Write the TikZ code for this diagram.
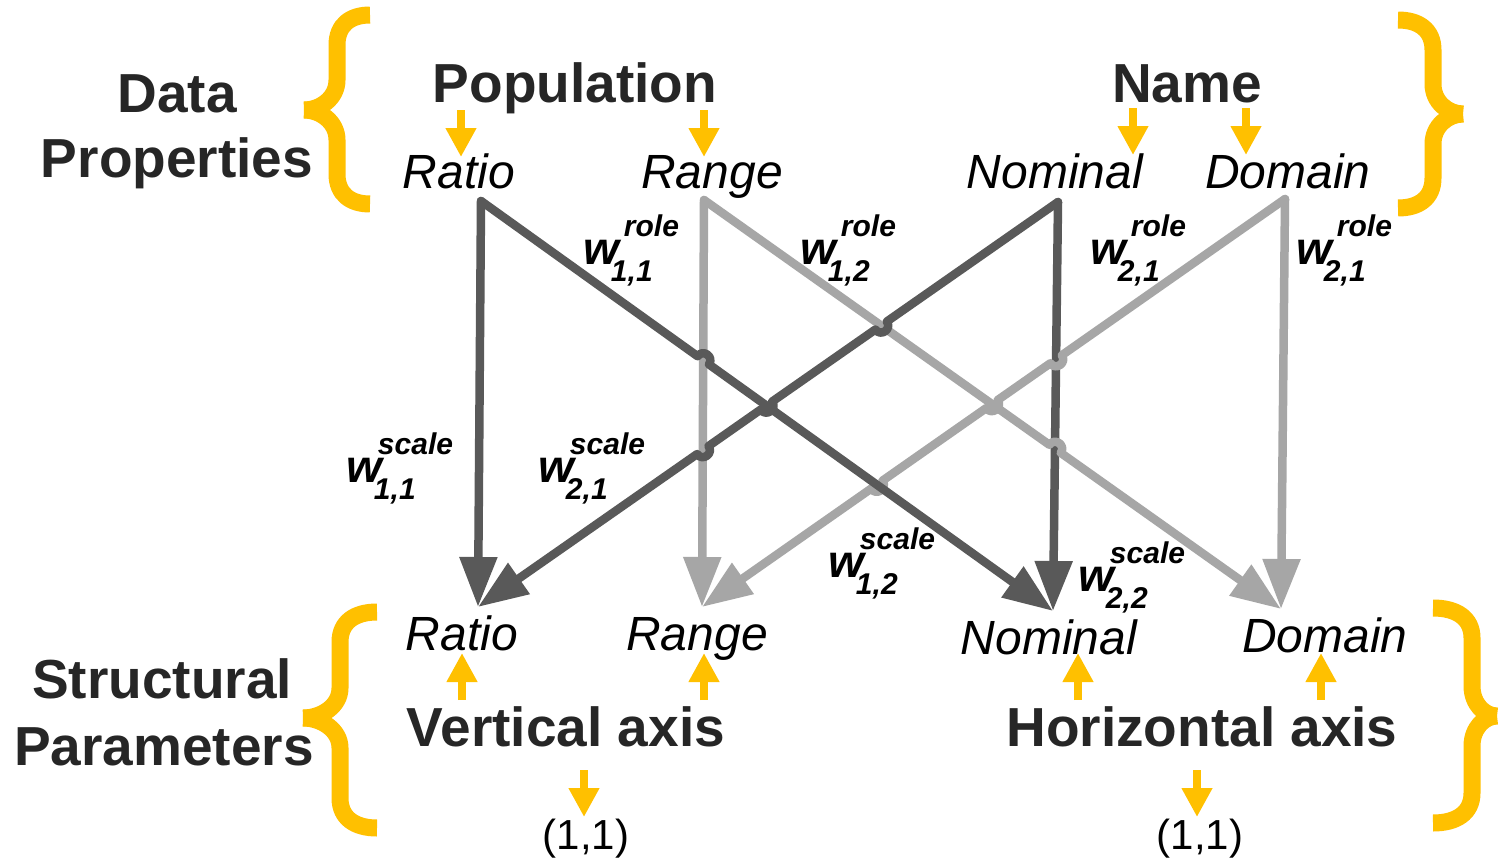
\documentclass[tikz,border=0pt]{standalone}
\usepackage{fontspec}
\setmainfont{Liberation Sans}
\usetikzlibrary{arrows.meta,calc}

\definecolor{dk}{HTML}{595959}
\definecolor{lt}{HTML}{A6A6A6}
\definecolor{gold}{HTML}{FFC000}
\definecolor{ink}{HTML}{262626}

% weight label: w with a superscript (#2) and a subscript (#3); #1 shifts the superscript
\newcommand{\wlab}[3][5pt]{{\fontsize{46}{46}\selectfont w}\rlap{\kern-8pt\raisebox{-17pt}{\fontsize{30}{30}\selectfont #3}}\kern#1\raisebox{28pt}{\fontsize{30}{30}\selectfont #2}}

% curly brace drawn as two thick strokes:
% #1 end x, #2 top y, #3 bottom y, #4 stem x, #5 tip x, #6 tip y
\newcommand{\goldbrace}[6]{%
  \draw[bracestroke] (#1,#2) .. controls ({#4+0.4*(#1-#4)},#2) and (#4,{#2+10}) .. (#4,{#2+30})
    -- (#4,{#6-30}) .. controls (#4,{#6-12}) and ({(#4+#5)/2},#6) .. (#5,#6);
  \draw[bracestroke] (#5,#6) .. controls ({(#4+#5)/2},#6) and (#4,{#6+12}) .. (#4,{#6+30})
    -- (#4,{#3-30}) .. controls (#4,{#3-10}) and ({#4+0.4*(#1-#4)},#3) .. (#1,#3);
}

\begin{document}
\begin{tikzpicture}[x=1pt,y=-1pt,
  title/.style={font=\fontsize{55}{60}\selectfont\bfseries, text=ink, anchor=base, inner sep=0pt},
  prop/.style={font=\fontsize{48}{50}\selectfont\itshape, text=black, anchor=base, inner sep=0pt},
  wt/.style={font=\bfseries\itshape, text=black, anchor=base west, inner sep=0pt},
  coordtext/.style={font=\fontsize{42}{44}\selectfont, text=black, anchor=base, inner sep=0pt},
  link/.style={line width=8.5pt, line cap=round, line join=round, -{Triangle[length=50pt,width=36pt]}},
  dklink/.style={link, draw=dk},
  ltlink/.style={link, draw=lt},
  hop/.style={bend left=90, looseness=1.7},
  pointer/.style={draw=gold, line width=7.5pt, -{Triangle[length=29pt,width=29pt]}},
  bracestroke/.style={draw=gold, line width=17pt, line cap=butt}
]
\useasboundingbox (0,0) rectangle (1499,859);
\fill[white] (0,0) rectangle (1499,859);

% group labels
\node[title] (dataA) at (177,112) {Data};
\node[title] (dataB) at (177,177) {Properties};
\node[title] (structA) at (162,698) {Structural};
\node[title] (structB) at (164,765) {Parameters};

% braces
\goldbrace{370}{15}{204}{337}{304}{110}
\goldbrace{1398}{20}{208}{1433}{1463}{114}
\goldbrace{377}{612}{828}{340}{303}{718}
\goldbrace{1433}{608}{823}{1472}{1497}{716}

% data properties
\node[title] (pop) at (575,102) {Population};
\node[title] (nam) at (1187,102) {Name};
\node[prop] (ratT) at (459,188) {Ratio};
\node[prop] (ranT) at (712,188) {Range};
\node[prop] (nomT) at (1055,188) {Nominal};
\node[prop] (domT) at (1288,188) {Domain};

% structural parameters
\node[prop] (ratB) at (462,650) {Ratio};
\node[prop] (ranB) at (697,650) {Range};
\node[prop] (nomB) at (1049,654) {Nominal};
\node[prop] (domB) at (1325,652) {Domain};
\node[title] (vax) at (566,746) {Vertical axis};
\node[title] (hax) at (1202,746) {Horizontal axis};
\node[coordtext] (one1) at (586,849) {(1,1)};
\node[coordtext] (one2) at (1200,849) {(1,1)};

% yellow pointers
\draw[pointer] ([xshift=-114pt,yshift=-8pt]pop.base) -- ++(0,47);
\draw[pointer] ([xshift=129pt,yshift=-8pt]pop.base) -- ++(0,47);
\draw[pointer] ([xshift=-54pt,yshift=-6pt]nam.base) -- ++(0,47);
\draw[pointer] ([xshift=59pt,yshift=-6pt]nam.base) -- ++(0,47);
\draw[pointer] ([xshift=-104pt,yshift=46pt]vax.base) -- ++(0,-47);
\draw[pointer] ([xshift=138pt,yshift=46pt]vax.base) -- ++(0,-47);
\draw[pointer] ([xshift=-124pt,yshift=46pt]hax.base) -- ++(0,-47);
\draw[pointer] ([xshift=119pt,yshift=46pt]hax.base) -- ++(0,-47);
\draw[pointer] ([xshift=18pt,yshift=-24pt]vax.base) -- ++(0,47);
\draw[pointer] ([xshift=-5pt,yshift=-24pt]hax.base) -- ++(0,47);

% link end points
\coordinate (sRat) at (481,201);
\coordinate (sRan) at (704,200);
\coordinate (sNom) at (1058,202);
\coordinate (sDom) at (1285,199);
\coordinate (eRat) at (478,607);
\coordinate (eRan) at (702,607);
\coordinate (eNom) at (1053,611);
\coordinate (eDom) at (1281,609);

% crossings
\coordinate (xA) at (intersection of sRat--eNom and sRan--eRan);
\coordinate (xB) at (intersection of sNom--eRat and sRan--eDom);
\coordinate (xC) at (intersection of sNom--eRat and sRat--eNom);
\coordinate (xD) at (intersection of sNom--eRat and sRan--eRan);
\coordinate (xE) at (intersection of sDom--eRan and sNom--eNom);
\coordinate (xF) at (intersection of sDom--eRan and sRan--eDom);
\coordinate (xG) at (intersection of sDom--eRan and sRat--eNom);
\coordinate (xH) at (intersection of sRan--eDom and sNom--eNom);

% straight links
\draw[ltlink] (sRan) -- (eRan);
\draw[ltlink] (sDom) -- (eDom);
\draw[dklink] (sRat) -- (eRat);
\draw[dklink] (sNom) -- (eNom);

% crossing links with hops
\draw[ltlink] (sRan) -- ($(xH)!7pt!(sRan)$) to[hop] ($(xH)!7pt!(eDom)$) -- (eDom);
\draw[ltlink] (sDom) -- ($(xE)!7pt!(sDom)$) to[hop] ($(xE)!7pt!(eRan)$)
  -- ($(xF)!7pt!(sDom)$) to[hop] ($(xF)!7pt!(eRan)$)
  -- ($(xG)!7pt!(sDom)$) to[hop] ($(xG)!7pt!(eRan)$) -- (eRan);
\draw[dklink] (sRat) -- ($(xA)!7pt!(sRat)$) to[hop] ($(xA)!7pt!(eNom)$) -- (eNom);
\draw[dklink] (sNom) -- ($(xB)!7pt!(sNom)$) to[hop] ($(xB)!7pt!(eRat)$)
  -- ($(xC)!7pt!(sNom)$) to[hop] ($(xC)!7pt!(eRat)$)
  -- ($(xD)!7pt!(sNom)$) to[hop] ($(xD)!7pt!(eRat)$) -- (eRat);

% weights
\node[wt] (wr11) at (583,264) {\wlab{role}{1,1}};
\node[wt] (wr12) at (800,264) {\wlab{role}{1,2}};
\node[wt] (wr21a) at (1090,264) {\wlab{role}{2,1}};
\node[wt] (wr21b) at (1296,264) {\wlab{role}{2,1}};
\node[wt] (ws11) at (346,482) {\wlab[-4pt]{scale}{1,1}};
\node[wt] (ws21) at (538,482) {\wlab[-4pt]{scale}{2,1}};
\node[wt] (ws12) at (828,577) {\wlab[-4pt]{scale}{1,2}};
\node[wt] (ws22) at (1078,591) {\wlab[-4pt]{scale}{2,2}};
\end{tikzpicture}
\end{document}
